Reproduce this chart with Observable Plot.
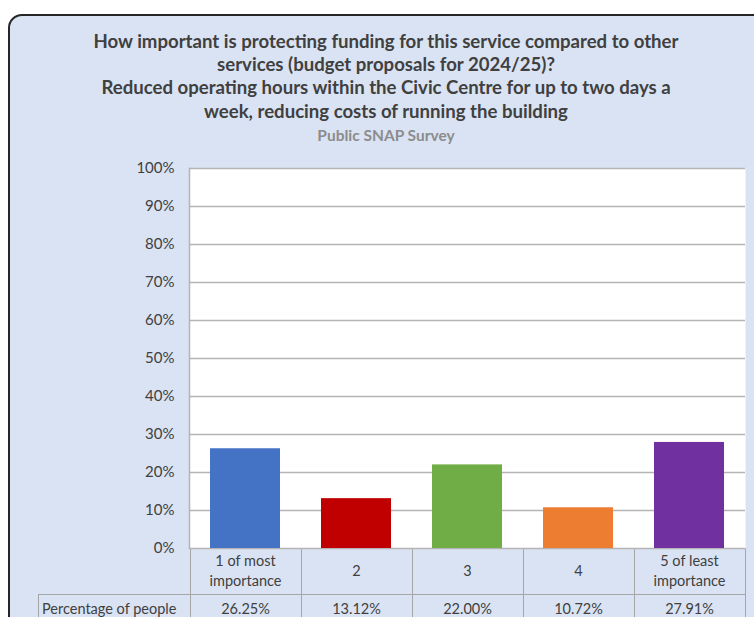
<!DOCTYPE html>
<html>
<head>
<meta charset="utf-8">
<script src="https://cdn.jsdelivr.net/npm/d3@7"></script>
<script src="https://cdn.jsdelivr.net/npm/@observablehq/plot@0.6"></script>
<style>
  html, body { margin: 0; padding: 0; background: #ffffff; width: 754px; height: 617px; overflow: hidden; }
  body { position: relative; font-family: Lato, "Open Sans", sans-serif; color: #404040; }
  #panel { position: absolute; left: 8px; top: 14px; width: 780px; height: 640px; background: #dae3f3;
           border: 2px solid #262626; border-radius: 14px; box-sizing: border-box; }
  #title { position: absolute; left: 0; top: 30px; width: 772px; text-align: center; font-weight: bold;
           font-size: 18.6px; line-height: 23.2px; color: #404040; }
  #subtitle { position: absolute; left: 0; top: 126px; width: 772px; text-align: center; font-weight: bold;
           font-size: 15.5px; color: #8c8c8c; }
  #chart { position: absolute; left: 0; top: 150px; }
  #table { position: absolute; left: 38px; top: 548px; border-collapse: collapse; font-size: 14.5px; color: #404040; }
  #table td { border: 1px solid #a6a6a6; text-align: center; padding: 0; line-height: 20px; }
  #table td.blank { border-top: none; border-left: none; }
  #table td.rowlabel { text-align: left; padding-left: 3px; }
</style>
</head>
<body>
<div id="panel"></div>
<div id="title">How important is protecting funding for this service compared to other<br>services (budget proposals for 2024/25)?<br>Reduced operating hours within the Civic Centre for up to two days a<br>week, reducing costs of running the building</div>
<div id="subtitle">Public SNAP Survey</div>
<table id="table"></table>
<div id="chart"></div>
<script>
const categories = ["1 of most importance", "2", "3", "4", "5 of least importance"];
const categoryLines = [["1 of most", "importance"], ["2"], ["3"], ["4"], ["5 of least", "importance"]];
const values = [26.25, 13.12, 22.00, 10.72, 27.91];
const colors = ["#4472c4", "#c00000", "#70ad47", "#ed7d31", "#7030a0"];
const yTicks = [0, 10, 20, 30, 40, 50, 60, 70, 80, 90, 100];
const rowLabel = "Percentage of people";

const data = categories.map((c, i) => ({category: c, value: values[i] / 100}));

const chart = Plot.plot({
  width: 754,
  height: 410,
  marginLeft: 189,
  marginRight: 9,
  marginTop: 18,
  marginBottom: 12,
  style: {background: "transparent", fontFamily: "Lato, sans-serif", fontSize: "15px", color: "#404040"},
  x: {domain: categories, paddingInner: 0.37, paddingOuter: 0.185, axis: null},
  y: {domain: [0, 1], ticks: yTicks.map(d => d / 100), tickFormat: d => Math.round(d * 100) + "%", label: null},
  color: {domain: categories, range: colors},
  marks: [
    Plot.frame({fill: "white", stroke: null}),
    Plot.gridY(yTicks.map(d => d / 100), {stroke: "#b4b4b4", strokeOpacity: 1, strokeWidth: 1.5}),
    Plot.frame({anchor: "left", stroke: "#b4b4b4", strokeWidth: 1.5}),
    Plot.barY(data, {x: "category", y: "value", fill: "category"}),
    Plot.axisY(yTicks.map(d => d / 100), {tickSize: 0, tickPadding: 15, tickFormat: d => Math.round(d * 100) + "%", fontSize: 15, fill: "#404040"})
  ]
});
chart.style.overflow = "visible";
document.getElementById("chart").appendChild(chart);

// data table below the chart
const table = document.getElementById("table");
const r1 = table.insertRow();
const blank = r1.insertCell();
blank.className = "blank";
blank.style.width = "151px";
blank.style.height = "45px";
categoryLines.forEach(lines => {
  const td = r1.insertCell();
  td.style.width = "110px";
  td.innerHTML = lines.join("<br>");
});
const r2 = table.insertRow();
const lab = r2.insertCell();
lab.className = "rowlabel";
lab.textContent = rowLabel;
lab.style.height = "28px";
values.forEach(v => {
  const td = r2.insertCell();
  td.textContent = v.toFixed(2) + "%";
});
</script>
</body>
</html>
